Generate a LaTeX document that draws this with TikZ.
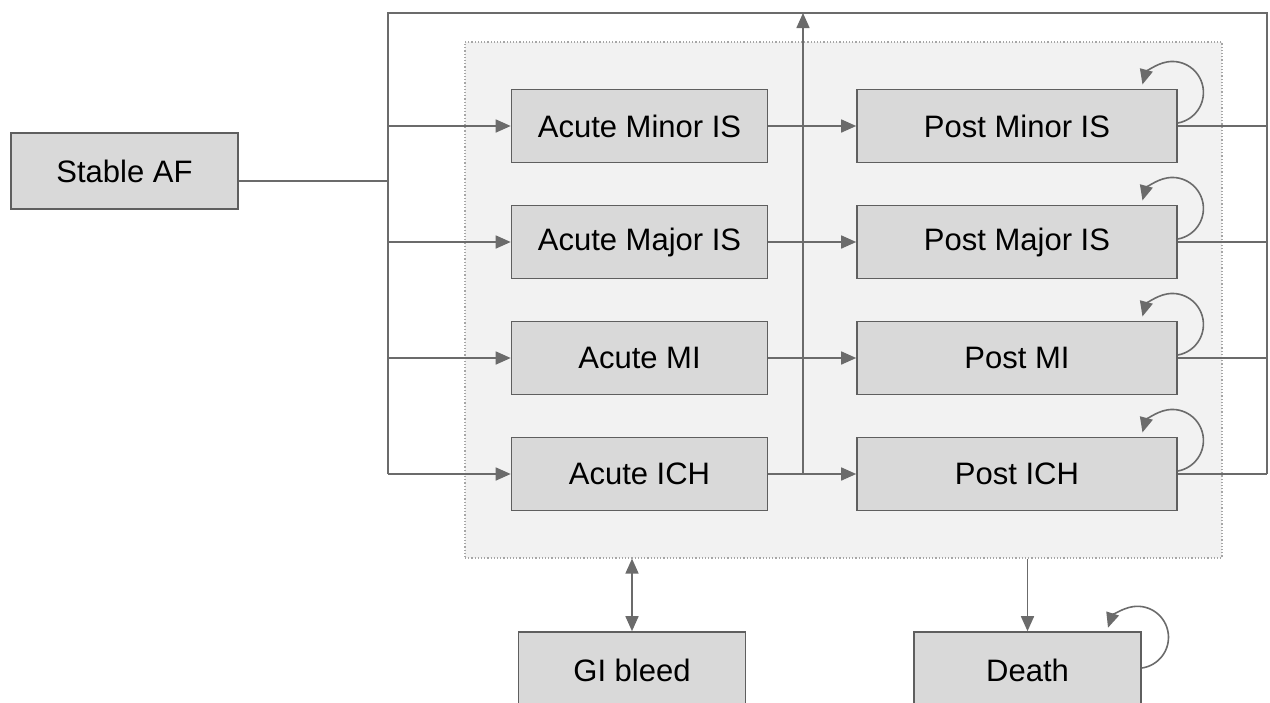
\documentclass[tikz,border=0pt]{standalone}
\usepackage{fontspec}
\setmainfont{Liberation Sans}
\usetikzlibrary{arrows.meta}
\definecolor{boxfill}{HTML}{D9D9D9}
\definecolor{boxline}{HTML}{5F5F5F}
\definecolor{conn}{HTML}{6B6B6B}
\definecolor{regfill}{HTML}{F2F2F2}
\definecolor{regline}{HTML}{A6A6A6}
\tikzset{
  state/.style={draw=boxline, line width=1.6pt, fill=boxfill, inner sep=0pt,
    font=\fontsize{31}{36}\selectfont, text=black},
  acutebox/.style={state, minimum width=256pt, minimum height=73pt},
  postbox/.style={state, minimum width=320pt, minimum height=73pt},
  smallbox/.style={state, minimum width=227pt, minimum height=76pt},
  region/.style={draw=regline, dotted, line width=1.2pt, fill=regfill,
    minimum width=757pt, minimum height=516pt, inner sep=0pt},
  wire/.style={draw=conn, line width=1.6pt},
  arr/.style={wire, -{Triangle[length=15pt,width=13pt]}},
  darr/.style={wire, {Triangle[length=15pt,width=13pt]}-{Triangle[length=15pt,width=13pt]}},
}
\begin{document}
\begin{tikzpicture}[x=1pt,y=-1pt]
\useasboundingbox (0,0) rectangle (1270,702);
\node[region] (reg) at (843.5,300) {};

\node[smallbox] (saf) at (124.5,171) {Stable AF};

\node[acutebox] (am) at (639.5,126) {Acute Minor IS};
\node[acutebox] (aj) at (639.5,242) {Acute Major IS};
\node[acutebox] (ami) at (639.5,358) {Acute MI};
\node[acutebox] (aich) at (639.5,474) {Acute ICH};

\node[postbox] (pm) at (1017,126) {Post Minor IS};
\node[postbox] (pj) at (1017,242) {Post Major IS};
\node[postbox] (pmi) at (1017,358) {Post MI};
\node[postbox] (pich) at (1017,474) {Post ICH};

\node[smallbox] (gi) at (632,670) {GI bleed};
\node[smallbox] (death) at (1027.5,670) {Death};

% bus coordinates
\coordinate (lj) at (388,181);
\coordinate (lt) at (388,13);
\coordinate (lb) at (388,474);
\coordinate (rt) at (1267,13);
\coordinate (rb) at (1267,474);
\coordinate (vt) at (803,13);
\coordinate (vb) at (803,474);

\draw[wire] ([yshift=-10pt]saf.east) -- (lj);
\draw[wire] (lb) -- (lt) -- (rt) -- (rb);

\foreach \n in {am,aj,ami,aich}{
  \draw[arr] (lt |- \n.west) -- (\n.west);
}
\draw[arr] (am.east) -- (pm.west);
\draw[arr] (aj.east) -- (pj.west);
\draw[arr] (ami.east) -- (pmi.west);
\draw[arr] (aich.east) -- (pich.west);
\draw[arr] (vb) -- (vt);

\foreach \n in {pm,pj,pmi,pich}{
  \draw[wire] (\n.east) -- (rt |- \n.east);
  \draw[arr] ([yshift=3pt]\n.east) arc[start angle=80,end angle=-165,radius=31];
}

\draw[darr] (gi.north) -- (gi.north |- reg.south);
\draw[arr] (death.north |- reg.south) -- (death.north);
\draw[arr] ([yshift=2pt]death.east) arc[start angle=82,end angle=-162,radius=31];
\end{tikzpicture}
\end{document}
